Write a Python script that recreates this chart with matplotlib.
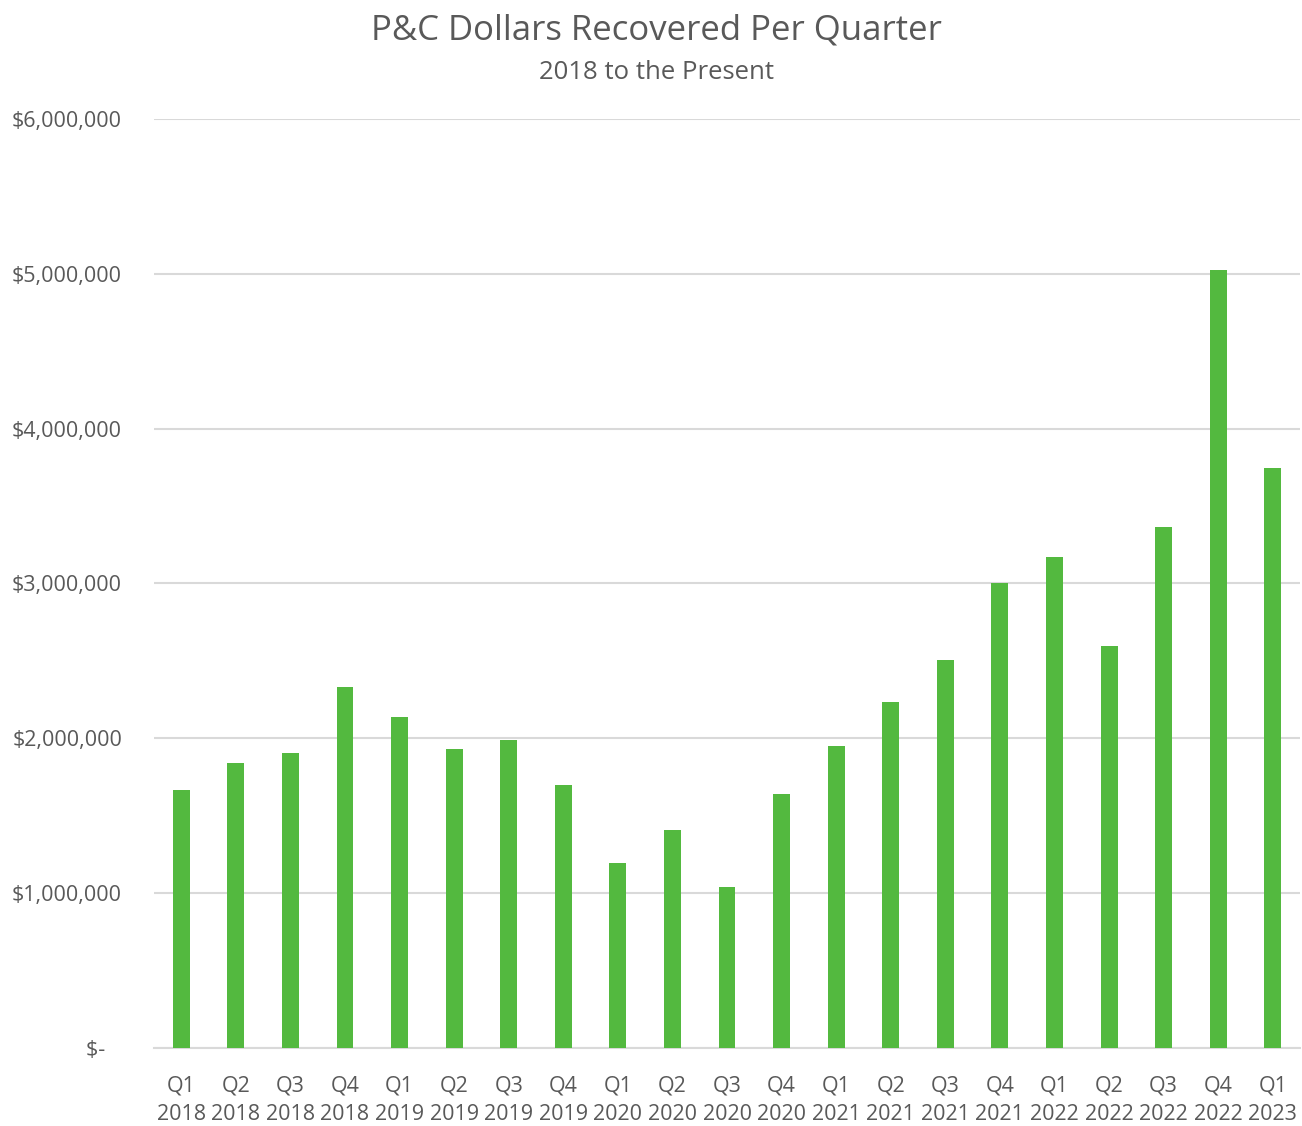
import matplotlib.pyplot as plt
from matplotlib.ticker import FuncFormatter

quarters = ["Q1", "Q2", "Q3", "Q4"] * 5 + ["Q1"]
years = ["2018"] * 4 + ["2019"] * 4 + ["2020"] * 4 + ["2021"] * 4 + ["2022"] * 4 + ["2023"]
recovered = [1667000, 1841000, 1906000, 2332000, 2138000, 1932000, 1990000, 1699000,
             1195000, 1408000, 1040000, 1641000, 1951000, 2235000, 2506000, 3004000,
             3172000, 2597000, 3366000, 5026000, 3747000]

plt.rcParams['font.family'] = ['Open Sans', 'DejaVu Sans']
text_col = '#595959'

fig = plt.figure(figsize=(13.02, 11.26), dpi=100)
ax = fig.add_axes([0.1183, 0.0693, 0.8802, 0.8250])

labels = [q + "\n" + y for q, y in zip(quarters, years)]
x = range(len(recovered))
ax.bar(x, recovered, width=0.31, color='#53B93F', zorder=3)

ax.set_xlim(-0.5, len(recovered) - 0.5)
ax.set_ylim(0, 6000000)
ax.set_yticks(range(0, 6000001, 1000000))


def money(v, pos):
    # excel accounting style: zero shows as a dash
    if v == 0:
        return "$-   "
    return "${:,.0f}".format(v)


ax.yaxis.set_major_formatter(FuncFormatter(money))
ax.set_xticks(list(x))
ax.set_xticklabels(labels, linespacing=1.45)
ax.tick_params(axis='both', length=0, colors=text_col, labelsize=15.5)
ax.tick_params(axis='x', pad=20)
ax.tick_params(axis='y', pad=23)
ax.grid(axis='y', color='#D9D9D9', linewidth=1.5, zorder=0)
for s in ['top', 'right', 'left']:
    ax.spines[s].set_visible(False)
ax.spines['bottom'].set_color('#D9D9D9')
ax.spines['bottom'].set_linewidth(1.5)

fig.text(0.504, 0.973, "P&C Dollars Recovered Per Quarter", ha='center', va='center',
         fontsize=25, color=text_col)
fig.text(0.504, 0.936, "2018 to the Present", ha='center', va='center',
         fontsize=18.5, color=text_col)

fig.savefig("out.png", dpi=100)
